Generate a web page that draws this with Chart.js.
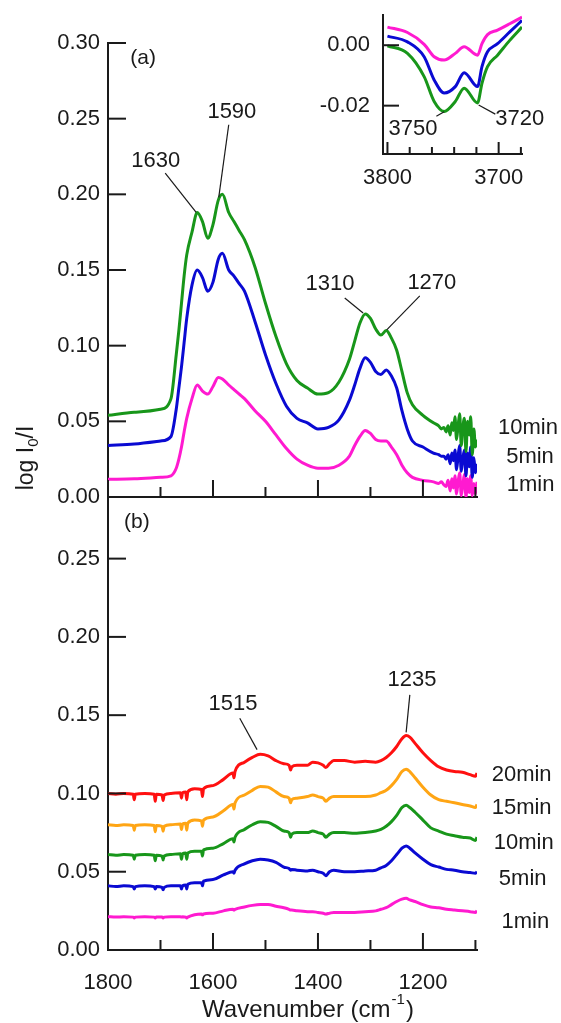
<!DOCTYPE html>
<html>
<head>
<meta charset="utf-8">
<script src="https://cdn.jsdelivr.net/npm/chart.js@4.4.1/dist/chart.umd.min.js"></script>
<style>
  html, body { margin: 0; padding: 0; background: #fff; }
  #wrap { position: relative; width: 561px; height: 1023px; overflow: hidden; }
  canvas { position: absolute; }
</style>
</head>
<body>
<div id="wrap">
  <canvas id="bottom" width="561" height="543" style="left:0;top:480px"></canvas>
  <canvas id="top" width="561" height="520" style="left:0;top:0"></canvas>
  <canvas id="inset" width="261" height="200" style="left:300px;top:0"></canvas>
</div>
<script>
// ---- data ----
// panel (a)
const topWavenumber = [1800, 1750, 1700, 1680, 1670, 1665, 1660, 1655, 1650, 1640,
  1630, 1620, 1610, 1600, 1590, 1582, 1570, 1560, 1550, 1540,
  1520, 1500, 1480, 1460, 1440, 1420, 1400, 1380, 1360, 1340,
  1330, 1320, 1310, 1300, 1290, 1280, 1270, 1260, 1250, 1240,
  1230, 1220, 1200, 1180,
  1170, 1165, 1160, 1156, 1152, 1148, 1145, 1142, 1139, 1136, 1133, 1130,
  1127, 1124, 1121, 1118, 1115, 1112, 1109, 1106, 1103, 1100, 1097];
const top1min = [0.0117, 0.012, 0.013, 0.014, 0.019, 0.025, 0.033, 0.043, 0.052, 0.065,
  0.074, 0.070, 0.068, 0.073, 0.079, 0.078, 0.074, 0.071, 0.068, 0.065,
  0.057, 0.050, 0.041, 0.032, 0.025, 0.021, 0.019, 0.019, 0.021, 0.027,
  0.034, 0.040, 0.044, 0.042, 0.038, 0.037, 0.037, 0.033, 0.028, 0.021,
  0.016, 0.013, 0.011, 0.010,
  0.009, 0.010, 0.008, 0.007, 0.011, 0.004, 0.012, 0.006, 0.014, 0.002, 0.010, 0.016,
  0.001, 0.008, 0.015, 0.000, 0.012, 0.003, 0.014, 0.001, 0.009, 0.002, 0.010];
const top5min = [0.034, 0.035, 0.037, 0.040, 0.058, 0.072, 0.086, 0.102, 0.118, 0.140,
  0.150, 0.145, 0.136, 0.142, 0.157, 0.161, 0.150, 0.146, 0.141, 0.136,
  0.116, 0.094, 0.075, 0.060, 0.052, 0.049, 0.045, 0.046, 0.051, 0.064,
  0.074, 0.085, 0.092, 0.089, 0.083, 0.081, 0.084, 0.080, 0.072, 0.057,
  0.045, 0.037, 0.033, 0.029,
  0.028, 0.027, 0.027, 0.025, 0.028, 0.022, 0.029, 0.024, 0.031, 0.018, 0.027, 0.034,
  0.017, 0.025, 0.031, 0.014, 0.029, 0.020, 0.033, 0.013, 0.026, 0.016, 0.022];
const top10min = [0.054, 0.056, 0.058, 0.065, 0.094, 0.110, 0.128, 0.146, 0.160, 0.175,
  0.188, 0.182, 0.171, 0.180, 0.196, 0.200, 0.188, 0.182, 0.176, 0.170,
  0.152, 0.128, 0.106, 0.088, 0.077, 0.072, 0.068, 0.069, 0.076, 0.091,
  0.103, 0.115, 0.121, 0.118, 0.111, 0.107, 0.110, 0.105, 0.097, 0.083,
  0.069, 0.061, 0.054, 0.049,
  0.047, 0.045, 0.046, 0.043, 0.047, 0.041, 0.049, 0.044, 0.053, 0.038, 0.047, 0.055,
  0.034, 0.046, 0.052, 0.030, 0.050, 0.041, 0.053, 0.028, 0.045, 0.033, 0.038];

// panel (b)
const bottomWavenumber = [1800, 1785, 1770, 1752, 1750, 1748, 1730, 1712, 1710, 1708,
  1697, 1695, 1693, 1680, 1662, 1660, 1658, 1652, 1650, 1648,
  1635, 1622, 1620, 1618, 1600,
  1580, 1562, 1560, 1558, 1540, 1525, 1510, 1495, 1480, 1465,
  1455, 1452, 1450, 1440, 1420, 1410, 1400, 1390, 1385, 1378,
  1370, 1350, 1330, 1310, 1290, 1280, 1270, 1260, 1250, 1240,
  1232, 1225, 1215, 1200, 1185, 1170, 1155, 1140, 1125, 1110,
  1100, 1097];
const bottom20min = [0.100, 0.0995, 0.100, 0.0995, 0.096, 0.0995, 0.100, 0.0995, 0.095, 0.0995,
  0.099, 0.0955, 0.099, 0.100, 0.1005, 0.097, 0.1005, 0.101, 0.096, 0.101,
  0.103, 0.1025, 0.098, 0.103, 0.105,
  0.109, 0.113, 0.110, 0.114, 0.120, 0.123, 0.125, 0.124, 0.121, 0.119,
  0.118, 0.115, 0.117, 0.118, 0.118, 0.120, 0.1195, 0.118, 0.1165, 0.119,
  0.121, 0.121, 0.120, 0.1205, 0.120, 0.121, 0.123, 0.126, 0.130, 0.135,
  0.137, 0.136, 0.132, 0.126, 0.121, 0.117, 0.115, 0.114, 0.1135, 0.112,
  0.111, 0.113];
const bottom15min = [0.080, 0.0795, 0.080, 0.0795, 0.0765, 0.0795, 0.080, 0.0795, 0.0755, 0.0795,
  0.079, 0.076, 0.079, 0.080, 0.0805, 0.077, 0.0805, 0.081, 0.0765, 0.081,
  0.083, 0.0825, 0.079, 0.083, 0.085,
  0.089, 0.093, 0.090, 0.094, 0.099, 0.102, 0.1045, 0.104, 0.101, 0.098,
  0.097, 0.094, 0.096, 0.097, 0.098, 0.099, 0.098, 0.097, 0.095, 0.097,
  0.098, 0.098, 0.098, 0.098, 0.099, 0.1005, 0.102, 0.105, 0.109, 0.114,
  0.1155, 0.114, 0.110, 0.104, 0.099, 0.096, 0.095, 0.094, 0.093, 0.092,
  0.091, 0.093];
const bottom10min = [0.061, 0.0605, 0.061, 0.0605, 0.058, 0.0605, 0.061, 0.0605, 0.057, 0.0605,
  0.060, 0.0575, 0.060, 0.061, 0.0615, 0.058, 0.0615, 0.062, 0.058, 0.062,
  0.063, 0.063, 0.060, 0.064, 0.065,
  0.068, 0.071, 0.069, 0.072, 0.077, 0.080, 0.082, 0.0815, 0.079, 0.076,
  0.075, 0.072, 0.074, 0.075, 0.075, 0.076, 0.075, 0.074, 0.072, 0.074,
  0.075, 0.075, 0.0745, 0.075, 0.076, 0.077, 0.079, 0.082, 0.086, 0.091,
  0.0925, 0.091, 0.088, 0.083, 0.078, 0.076, 0.074, 0.073, 0.072, 0.0715,
  0.070, 0.072];
const bottom5min = [0.041, 0.0405, 0.041, 0.0405, 0.039, 0.0405, 0.041, 0.0405, 0.039, 0.0405,
  0.040, 0.0385, 0.040, 0.041, 0.041, 0.039, 0.041, 0.0415, 0.039, 0.042,
  0.043, 0.043, 0.041, 0.044, 0.045,
  0.048, 0.050, 0.049, 0.051, 0.055, 0.057, 0.058, 0.0575, 0.056, 0.053,
  0.052, 0.051, 0.0515, 0.051, 0.0505, 0.051, 0.050, 0.049, 0.0475, 0.050,
  0.051, 0.050, 0.050, 0.0505, 0.051, 0.0525, 0.054, 0.057, 0.061, 0.065,
  0.0665, 0.065, 0.062, 0.058, 0.0545, 0.053, 0.0515, 0.051, 0.050, 0.0495,
  0.049, 0.050];
const bottom1min = [0.0213, 0.021, 0.0213, 0.021, 0.0205, 0.021, 0.0213, 0.021, 0.0205, 0.021,
  0.021, 0.0205, 0.021, 0.0213, 0.0213, 0.021, 0.0213, 0.021, 0.0205, 0.021,
  0.0225, 0.023, 0.0225, 0.023, 0.0235,
  0.025, 0.026, 0.0255, 0.026, 0.0275, 0.0285, 0.029, 0.029, 0.028, 0.027,
  0.026, 0.0255, 0.0255, 0.025, 0.0245, 0.0245, 0.024, 0.0235, 0.023, 0.0235,
  0.024, 0.024, 0.024, 0.0245, 0.025, 0.026, 0.027, 0.029, 0.031, 0.0325,
  0.033, 0.032, 0.031, 0.029, 0.0275, 0.027, 0.026, 0.0255, 0.025, 0.0245,
  0.024, 0.025];

// inset (OH region)
const insetWavenumber = [3800, 3782, 3767, 3758, 3749, 3739, 3731, 3719, 3715, 3710, 3701, 3690, 3679];
const inset1min = [0.0060, 0.0042, 0.0003, -0.0038, -0.0049, -0.0027, -0.0005, -0.0033, 0.0005, 0.0035, 0.0050, 0.0071, 0.0093];
const inset5min = [0.0030, 0.0011, -0.0038, -0.0115, -0.0158, -0.0137, -0.0091, -0.0137, -0.0071, -0.0022, 0.0005, 0.0044, 0.0082];
const inset10min = [-0.0002, -0.0027, -0.0104, -0.0186, -0.0219, -0.0186, -0.0142, -0.0191, -0.0126, -0.0071, -0.0033, 0.0016, 0.0060];

// ticks and labels
const topYTicks = [0, 0.05, 0.10, 0.15, 0.20, 0.25, 0.30];
const bottomYTicks = [0, 0.05, 0.10, 0.15, 0.20, 0.25];
const xLabelTicks = [1800, 1600, 1400, 1200];
const xMinorTicks = [1700, 1500, 1300, 1100];
const insetXLabelTicks = [3800, 3700];
const insetXMinorTicks = [3780, 3760, 3740, 3720, 3680];
const insetYTicks = [0, -0.02];
const topSeriesNames = ['1min', '5min', '10min'];
const bottomSeriesNames = ['1min', '5min', '10min', '15min', '20min'];

// ---- styling ----
const FONT = "'Liberation Sans', Arial, sans-serif";
const INK = '#1a1a1a';
const MAGENTA = '#ff1ad0';
const BLUE = '#0a0ad2';
const GREEN = '#18961a';
const ORANGE = '#ffa514';
const RED = '#ff1010';

Chart.defaults.font.family = FONT;
Chart.defaults.font.size = 22;
Chart.defaults.color = INK;

function line(ctx, x1, y1, x2, y2) {
  ctx.beginPath();
  ctx.moveTo(x1, y1);
  ctx.lineTo(x2, y2);
  ctx.stroke();
}

function series(xs, ys, color, label) {
  return {
    label,
    data: xs.map((x, i) => ({x, y: ys[i]})),
    borderColor: color,
    borderWidth: 3,
    pointRadius: 0,
    cubicInterpolationMode: 'monotone',
    fill: false
  };
}

// inward tick marks, peak labels with leader lines, extra text
const frame = {
  id: 'frame',
  afterDatasetsDraw(chart, args, o) {
    const {ctx, scales: {x, y}} = chart;
    ctx.save();
    ctx.strokeStyle = INK;
    ctx.lineWidth = 2;
    o.yTicks.forEach(v => {
      const py = y.getPixelForValue(v);
      line(ctx, x.left, py, x.left + o.yLen, py);
    });
    o.xMajor.forEach(v => {
      const px = x.getPixelForValue(v);
      line(ctx, px, y.bottom, px, y.bottom - o.majorLen);
    });
    o.xMinor.forEach(v => {
      const px = x.getPixelForValue(v);
      line(ctx, px, y.bottom, px, y.bottom - o.minorLen);
    });
    ctx.fillStyle = INK;
    ctx.textAlign = 'center';
    ctx.textBaseline = 'middle';
    ctx.lineWidth = 1.2;
    (o.notes || []).forEach(n => {
      ctx.font = (n.size || 22) + 'px ' + FONT;
      ctx.fillText(n.text, x.getPixelForValue(n.at[0]), y.getPixelForValue(n.at[1]));
      if (n.from) {
        line(ctx, x.getPixelForValue(n.from[0]), y.getPixelForValue(n.from[1]),
          x.getPixelForValue(n.to[0]), y.getPixelForValue(n.to[1]));
      }
    });
    if (o.extra) o.extra(chart);
    ctx.restore();
  }
};

function xScale(min, max, height, labels, padding) {
  return {
    type: 'linear', reverse: true, min, max,
    afterFit(s) { s.height = height; s.paddingLeft = 0; s.paddingRight = 0; },
    afterBuildTicks(s) { s.ticks = labels.map(v => ({value: v})); },
    ticks: {display: labels.length > 0, padding, autoSkip: false, maxRotation: 0, callback: v => String(v)},
    grid: {display: true, drawOnChartArea: false, drawTicks: false},
    border: {display: true, color: INK, width: 2}
  };
}

function yScale(min, max, width, ticks, padding) {
  return {
    min, max,
    afterFit(s) { s.width = width; s.paddingTop = 0; s.paddingBottom = 0; },
    afterBuildTicks(s) { s.ticks = ticks.map(v => ({value: v})); },
    ticks: {padding, callback: v => v.toFixed(2)},
    grid: {display: true, drawOnChartArea: false, drawTicks: false},
    border: {display: true, color: INK, width: 2}
  };
}

function drawYTitle(chart) {
  const ctx = chart.ctx;
  ctx.save();
  ctx.translate(27, 458);
  ctx.rotate(-Math.PI / 2);
  ctx.textAlign = 'left';
  ctx.textBaseline = 'alphabetic';
  const big = '23px ' + FONT, small = '15px ' + FONT;
  ctx.font = big;
  const w1 = ctx.measureText('log I').width;
  const w3 = ctx.measureText('/I').width;
  ctx.font = small;
  const w2 = ctx.measureText('0').width;
  const sx = -(w1 + w2 + w3) / 2;
  ctx.font = big;
  ctx.fillText('log I', sx, 6);
  ctx.font = small;
  ctx.fillText('0', sx + w1, 11);
  ctx.font = big;
  ctx.fillText('/I', sx + w1 + w2, 6);
  ctx.restore();
}

function drawXTitle(chart) {
  const ctx = chart.ctx;
  ctx.save();
  ctx.textAlign = 'left';
  ctx.textBaseline = 'middle';
  const big = '24px ' + FONT, small = '15px ' + FONT;
  ctx.font = big;
  const w1 = ctx.measureText('Wavenumber (cm').width;
  const w3 = ctx.measureText(')').width;
  ctx.font = small;
  const w2 = ctx.measureText('-1').width + 2;
  const cx = 308, cy = 530;
  const sx = cx - (w1 + w2 + w3) / 2;
  ctx.font = big;
  ctx.fillText('Wavenumber (cm', sx, cy);
  ctx.font = small;
  ctx.fillText('-1', sx + w1 + 1, cy - 10);
  ctx.font = big;
  ctx.fillText(')', sx + w1 + w2, cy);
  ctx.restore();
}

// ---- panel (a) ----
const topLabelPos = [[995, 0.0079], [996, 0.0264], [1000, 0.0456]];
new Chart(document.getElementById('top'), {
  type: 'line',
  data: {
    datasets: [
      series(topWavenumber, top10min, GREEN, topSeriesNames[2]),
      series(topWavenumber, top5min, BLUE, topSeriesNames[1]),
      series(topWavenumber, top1min, MAGENTA, topSeriesNames[0])
    ]
  },
  options: {
    responsive: false,
    animation: false,
    layout: {padding: {left: 0, right: 84, top: 43, bottom: 23}},
    scales: {
      x: xScale(1097, 1800, 0, [], 0),
      y: yScale(0, 0.30, 108, topYTicks, 8)
    },
    plugins: {
      legend: {display: false},
      tooltip: {enabled: false},
      frame: {
        yTicks: topYTicks, yLen: 18,
        xMajor: xLabelTicks, majorLen: 17,
        xMinor: xMinorTicks, minorLen: 10,
        notes: [
          {text: '(a)', at: [1733, 0.290], size: 21},
          {text: '1630', at: [1709, 0.222], from: [1691, 0.214], to: [1632, 0.188]},
          {text: '1590', at: [1564, 0.2545], from: [1570, 0.246], to: [1589, 0.198]},
          {text: '1310', at: [1377, 0.1408], from: [1349, 0.1315], to: [1314, 0.1216]},
          {text: '1270', at: [1183, 0.1415], from: [1206, 0.1329], to: [1269, 0.1104]}
        ].concat(topSeriesNames.map((t, i) => ({text: t, at: topLabelPos[i]}))),
        extra: drawYTitle
      }
    }
  },
  plugins: [frame]
});

// ---- panel (b) ----
const bottomLabelPos = [[1005, 0.0179], [1010, 0.0454], [1008, 0.0684], [1012, 0.0907], [1012, 0.1118]];
new Chart(document.getElementById('bottom'), {
  type: 'line',
  data: {
    datasets: [
      series(bottomWavenumber, bottom20min, RED, bottomSeriesNames[4]),
      series(bottomWavenumber, bottom15min, ORANGE, bottomSeriesNames[3]),
      series(bottomWavenumber, bottom10min, GREEN, bottomSeriesNames[2]),
      series(bottomWavenumber, bottom5min, BLUE, bottomSeriesNames[1]),
      series(bottomWavenumber, bottom1min, MAGENTA, bottomSeriesNames[0])
    ]
  },
  options: {
    responsive: false,
    animation: false,
    layout: {padding: {left: 0, right: 84, top: 16, bottom: 0}},
    scales: {
      x: xScale(1097, 1800, 73, xLabelTicks, 20),
      y: yScale(0, 0.29, 108, bottomYTicks, 8)
    },
    plugins: {
      legend: {display: false},
      tooltip: {enabled: false},
      frame: {
        yTicks: bottomYTicks, yLen: 18,
        xMajor: xLabelTicks, majorLen: 17,
        xMinor: xMinorTicks, minorLen: 10,
        notes: [
          {text: '(b)', at: [1745, 0.273], size: 21},
          {text: '1515', at: [1562, 0.157], from: [1549, 0.148], to: [1516, 0.128]},
          {text: '1235', at: [1221, 0.1725], from: [1225, 0.163], to: [1232, 0.139]}
        ].concat(bottomSeriesNames.map((t, i) => ({text: t, at: bottomLabelPos[i]}))),
        extra: drawXTitle
      }
    }
  },
  plugins: [frame]
});

// ---- inset ----
new Chart(document.getElementById('inset'), {
  type: 'line',
  data: {
    datasets: [
      series(insetWavenumber, inset10min, GREEN, '10min'),
      series(insetWavenumber, inset5min, BLUE, '5min'),
      series(insetWavenumber, inset1min, MAGENTA, '1min')
    ]
  },
  options: {
    responsive: false,
    animation: false,
    layout: {padding: {left: 0, right: 39, top: 15, bottom: 0}},
    scales: {
      x: xScale(3679, 3804, 46, insetXLabelTicks, 11),
      y: yScale(-0.036, 0.010, 83, insetYTicks, 13)
    },
    plugins: {
      legend: {display: false},
      tooltip: {enabled: false},
      frame: {
        yTicks: insetYTicks, yLen: 16,
        xMajor: insetXLabelTicks, majorLen: 12,
        xMinor: insetXMinorTicks, minorLen: 7,
        notes: [
          {text: '3750', at: [3777, -0.0278], from: [3756, -0.0235], to: [3749, -0.0220]},
          {text: '3720', at: [3681, -0.0245], from: [3718, -0.0198], to: [3703, -0.0228]}
        ]
      }
    }
  },
  plugins: [frame]
});
</script>
</body>
</html>
